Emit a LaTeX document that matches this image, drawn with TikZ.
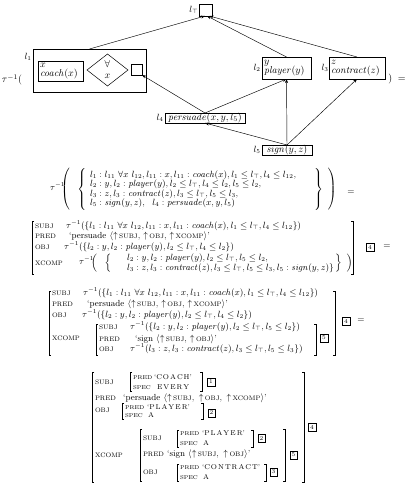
\documentclass[tikz,border=0pt]{standalone}
\usetikzlibrary{shapes.geometric,arrows.meta}
\newcommand{\dlm}[3]{$\left#1\vcenter{\hbox{\rule{0pt}{#3}}}\right.\hspace{#2}\left\{\vcenter{\hbox{\rule{0pt}{#3}}}\right.$}
\newcommand{\drm}[2]{$\left.\vcenter{\hbox{\rule{0pt}{#2}}}\right\}\hspace{#1}\left.\vcenter{\hbox{\rule{0pt}{#2}}}\right)$}
\newcommand{\ltop}{l_\top}
\newcommand{\fsc}[1]{{\fontsize{6.5}{8}\selectfont #1}}
\newcommand{\fsi}[1]{{\fontsize{5.6}{7}\selectfont #1}}
\newcommand{\fsv}[1]{{\fontsize{7}{8}\selectfont #1}}
\newcommand{\ls}{\kern1pt}
\newcommand{\up}{$\uparrow$\,}
\begin{document}
\begin{tikzpicture}[x=1pt,y=-1pt,
  every node/.style={font=\fontsize{8.8}{9.5}\selectfont, inner sep=0pt, outer sep=0pt},
  big/.style={font=\fontsize{10}{11}\selectfont},
  box/.style={draw, line width=0.5pt},
  arr/.style={-{Stealth[length=4pt,width=3pt]}, line width=0.45pt},
  br/.style={line width=0.5pt},
  tag/.style={draw, line width=0.45pt, minimum width=7.5pt, minimum height=8pt, font=\fontsize{6}{6}\selectfont},
  r/.style={anchor=mid west}]
\useasboundingbox (0,0) rectangle (405,484);

% ---------- top graph ----------
\node[box, minimum width=13pt, minimum height=12pt] (lT) at (205.5,10) {};
\node[anchor=east] (lTlab) at (198.5,10) {$\ltop$};
\node[box, minimum width=113pt, minimum height=43pt] (l1) at (89.5,70.5) {};
\node (l1lab) at (28,57) {$l_1$};
\node[box, big, minimum height=20pt, align=left, text width=41pt, inner xsep=2pt] (cx) at (60.5,71) {$x$\\[-2pt]$\mathit{coach}(x)$};
\node[box, diamond, minimum width=41pt, minimum height=32pt] (dm) at (107.5,70) {};
\node[big] (dmA) at (107.5,64) {$\forall$};
\node[big] (dmx) at (107.5,76) {$x$};
\node[box, minimum size=11pt] (sb) at (136.5,69.5) {};
\node[big] (tau0) at (12,80) {$\tau^{-1}($};
\node[box, big, minimum height=22pt, align=left, text width=45pt, inner xsep=2pt] (l2) at (286.5,68) {$y$\\[-2pt]$\mathit{player}(y)$};
\node (l2lab) at (257,68) {$l_2$};
\node[box, big, minimum height=22pt, align=left, text width=52pt, inner xsep=2pt] (l3) at (357,68) {$z$\\[-2pt]$\mathit{contract}(z)$};
\node (l3lab) at (325,68) {$l_3$};
\node[big] (cl0) at (397,79) {$)\;=$};
\node[box, big, minimum width=80pt, minimum height=10pt] (l4) at (205,118) {$\mathit{persuade}(x,y,l_5)$};
\node (l4lab) at (160,118) {$l_4$};
\node[box, big, minimum width=50pt, minimum height=10pt] (l5) at (287,150) {$\mathit{sign}(y,z)$};
\node (l5lab) at (257,150) {$l_5$};

\draw[arr] (l1.north) -- ([xshift=-0.5pt]lT.south);
\draw[arr] (l2.north) -- ([xshift=1.5pt]lT.south);
\draw[arr] (l3.north) -- ([xshift=4pt]lT.south);
\draw[arr] (l4.north) -- (sb.south east);
\draw[arr] (l4.north) -- (l2.south);
\draw[arr] (l5.north) -- (l2.south);
\draw[arr] (l5.north) -- (l3.south);
\draw[arr] (l5.north) -- (l4.south);

% ---------- formula 1 ----------
\node[anchor=mid west] (f1t) at (50,188) {$\tau^{-1}$};
\node[anchor=west] (f1l) at (61,189) {\dlm({5pt}{40pt}};
\node[anchor=west, align=left] (f1txt) at (90,189) {%
$l_1 : l_{11}\ \forall x\ l_{12}, l_{11} : x, l_{11} : \mathit{coach}(x), l_1 \le \ltop, l_4 \le l_{12},$\\
$l_2 : y, l_2 : \mathit{player}(y), l_2 \le \ltop, l_4 \le l_2, l_5 \le l_2,$\\
$l_3 : z, l_3 : \mathit{contract}(z), l_3 \le \ltop, l_5 \le l_3,$\\
$l_5 : \mathit{sign}(y,z),\ \ l_4 : \mathit{persuade}(x,y,l_5)$};
\node[anchor=west] (f1r) at (313,189) {\drm{2pt}{40pt}};
\node (f1eq) at (351,193) {$=$};

% ---------- formula 2 ----------
\draw[br] (34,221) -- (32,221) -- (32,274) -- (34,274);
\draw[br] (351,221) -- (353,221) -- (353,274) -- (351,274);
\node[r] (f2s) at (35,226) {\fsc{SUBJ}};
\node[r] (f2sv) at (66,226) {$\tau^{-1}(\{l_1 : l_{11}\ \forall x\ l_{12}, l_{11} : x, l_{11} : \mathit{coach}(x), l_1 \le \ltop, l_4 \le l_{12}\})$};
\node[r] (f2p) at (35,236.5) {\fsc{PRED}};
\node[r] (f2pv) at (69,236.5) {`persuade $\langle$\up\fsc{SUBJ}, \up\fsc{OBJ}, \up\fsc{XCOMP}$\rangle$'};
\node[r] (f2o) at (35,247) {\fsc{OBJ}};
\node[r] (f2ov) at (64,247) {$\tau^{-1}(\{l_2 : y, l_2 : \mathit{player}(y), l_2 \le \ltop, l_4 \le l_2\})$};
\node[r] (f2x) at (35,263) {\fsc{XCOMP}};
\node[r] (f2xt) at (79,262) {$\tau^{-1}$};
\node[anchor=west] (f2xl) at (91,263) {\dlm({5pt}{17pt}};
\node[anchor=west, align=left] (f2xv) at (127,263) {%
$l_2 : y, l_2 : \mathit{player}(y), l_2 \le \ltop, l_5 \le l_2,$\\[1pt]
$l_3 : z, l_3 : \mathit{contract}(z), l_3 \le \ltop, l_5 \le l_3, l_5 : \mathit{sign}(y,z)\}$};
\node[anchor=west] (f2xr) at (334,263) {\drm{2pt}{17pt}};
\node[tag] (f2tag) at (370,247) {4};
\node (f2eq) at (387,247) {$=$};

% ---------- formula 3 ----------
\draw[br] (51,291) -- (49,291) -- (49,355) -- (51,355);
\draw[br] (333,291) -- (335,291) -- (335,355) -- (333,355);
\node[r] (f3s) at (52,293) {\fsc{SUBJ}};
\node[r] (f3sv) at (83,293) {$\tau^{-1}(\{l_1 : l_{11}\ \forall x\ l_{12}, l_{11} : x, l_{11} : \mathit{coach}(x), l_1 \le \ltop, l_4 \le l_{12}\})$};
\node[r] (f3p) at (52,304) {\fsc{PRED}};
\node[r] (f3pv) at (87,304) {`persuade $\langle$\up\fsc{SUBJ}, \up\fsc{OBJ}, \up\fsc{XCOMP}$\rangle$'};
\node[r] (f3o) at (52,315) {\fsc{OBJ}};
\node[r] (f3ov) at (82,315) {$\tau^{-1}(\{l_2 : y, l_2 : \mathit{player}(y), l_2 \le \ltop, l_4 \le l_2\})$};
\node[r] (f3x) at (52,338) {\fsc{XCOMP}};
\draw[br] (98,324) -- (96,324) -- (96,355) -- (98,355);
\draw[br] (314,324) -- (316,324) -- (316,355) -- (314,355);
\node[r] (f3xs) at (99,327) {\fsc{SUBJ}};
\node[r] (f3xsv) at (130,327) {$\tau^{-1}(\{l_2 : y, l_2 : \mathit{player}(y), l_2 \le \ltop, l_5 \le l_2\})$};
\node[r] (f3xp) at (99,339) {\fsc{PRED}};
\node[r] (f3xpv) at (135,339) {`sign $\langle$\up\fsc{SUBJ}, \up\fsc{OBJ}$\rangle$'};
\node[r] (f3xo) at (99,349) {\fsc{OBJ}};
\node[r] (f3xov) at (130,349) {$\tau^{-1}(l_3 : z, l_3 : \mathit{contract}(z), l_3 \le \ltop, l_5 \le l_3\})$};
\node[tag] (f3tag5) at (324,338) {5};
\node[tag] (f3tag4) at (346,321) {4};
\node (f3eq) at (361,321) {$=$};

% ---------- formula 4 ----------
\draw[br] (94,372) -- (92,372) -- (92,482) -- (94,482);
\draw[br] (302,372) -- (304,372) -- (304,482) -- (302,482);
\node[tag] (f4tag4) at (312,427) {4};
% SUBJ
\node[r] (f4s) at (95,382) {\fsc{SUBJ}};
\draw[br] (132,372) -- (130,372) -- (130,391) -- (132,391);
\draw[br] (200,372) -- (202,372) -- (202,391) -- (200,391);
\node[r] (f4sp) at (133,377) {\fsi{PRED}};
\node[r] (f4spv) at (154,377) {\fsv{`C\ls O\ls A\ls C\ls H'}};
\node[r] (f4ss) at (133,387) {\fsi{SPEC}};
\node[r] (f4ssv) at (157,387) {\fsv{E\ls V\ls E\ls R\ls Y}};
\node[tag] (f4tag1) at (211,382) {1};
% PRED
\node[r] (f4p) at (95,398) {\fsc{PRED}};
\node[r] (f4pv) at (123,398) {`persuade $\langle$\up\fsc{SUBJ},\, \up\fsc{OBJ},\, \up\fsc{XCOMP}$\rangle$'};
% OBJ
\node[r] (f4o) at (95,410) {\fsc{OBJ}};
\draw[br] (124,403) -- (122,403) -- (122,419) -- (124,419);
\draw[br] (201,403) -- (203,403) -- (203,419) -- (201,419);
\node[r] (f4op) at (125,407) {\fsi{PRED}};
\node[r] (f4opv) at (147,407) {\fsv{`P\ls L\ls A\ls Y\ls E\ls R'}};
\node[r] (f4os) at (125,415.5) {\fsi{SPEC}};
\node[r] (f4osv) at (148,415.5) {\fsv{A}};
\node[tag] (f4tag2a) at (211.5,413) {2};
% XCOMP
\node[r] (f4x) at (95,455) {\fsc{XCOMP}};
\draw[br] (142,429) -- (140,429) -- (140,481) -- (142,481);
\draw[br] (283,429) -- (285,429) -- (285,481) -- (283,481);
\node[tag] (f4tag5) at (293.5,455) {5};
\node[r] (f4xs) at (143,438) {\fsc{SUBJ}};
\draw[br] (179,430) -- (177,430) -- (177,447) -- (179,447);
\draw[br] (251,430) -- (253,430) -- (253,447) -- (251,447);
\node[r] (f4xsp) at (180,433.5) {\fsi{PRED}};
\node[r] (f4xspv) at (202,433.5) {\fsv{`P\ls L\ls A\ls Y\ls E\ls R'}};
\node[r] (f4xss) at (180,443) {\fsi{SPEC}};
\node[r] (f4xssv) at (203,443) {\fsv{A}};
\node[tag] (f4tag2b) at (261.5,438) {2};
\node[r] (f4xp) at (143,454) {\fsc{PRED}};
\node[r] (f4xpv) at (167,454) {`sign $\langle$\up\fsc{SUBJ},\, \up\fsc{OBJ}$\rangle$'};
\node[r] (f4xo) at (143,472) {\fsc{OBJ}};
\draw[br] (179,464) -- (177,464) -- (177,481) -- (179,481);
\draw[br] (264,464) -- (266,464) -- (266,481) -- (264,481);
\node[r] (f4xop) at (180,467.5) {\fsi{PRED}};
\node[r] (f4xopv) at (202,467.5) {\fsv{`C\ls O\ls N\ls T\ls R\ls A\ls C\ls T'}};
\node[r] (f4xos) at (180,477) {\fsi{SPEC}};
\node[r] (f4xosv) at (203,477) {\fsv{A}};
\node[tag] (f4tag3) at (273.5,472) {3};
\end{tikzpicture}
\end{document}
